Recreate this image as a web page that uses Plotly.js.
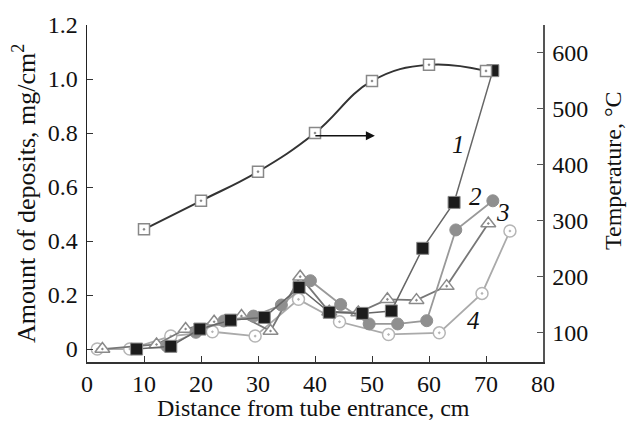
<!DOCTYPE html>
<html>
<head>
<meta charset="utf-8">
<script src="https://cdn.plot.ly/plotly-3.0.1.min.js"></script>
<style>html,body{margin:0;padding:0;background:#fff;}#chart{width:627px;height:426px;}</style>
</head>
<body>
<div id="chart"></div>
<script>
// Temperature (right axis)
const tempX = [10, 20, 30, 40, 50, 60, 70];
const tempY = [285, 336, 388, 457, 550, 579, 568];

// Deposits (left axis)
const s1X = [8.7, 14.7, 19.8, 25.2, 31.1, 37.2, 42.5, 48.3, 53.4, 58.9, 64.4, 71.2];
const s1Y = [0, 0.01, 0.074, 0.107, 0.117, 0.228, 0.136, 0.132, 0.141, 0.373, 0.543, 1.031];

const s2X = [14, 19.1, 24, 29.2, 34.1, 39.2, 44.5, 49.5, 54.5, 59.6, 64.7, 71.2];
const s2Y = [0.011, 0.062, 0.104, 0.122, 0.163, 0.253, 0.165, 0.093, 0.093, 0.105, 0.441, 0.549];

const s3X = [2.7, 12.2, 17.3, 22.3, 27.1, 32.2, 37.4, 42.5, 47.6, 52.7, 57.8, 63.1, 70.4];
const s3Y = [0, 0.017, 0.074, 0.101, 0.122, 0.067, 0.268, 0.138, 0.135, 0.184, 0.181, 0.233, 0.465];

const s4X = [1.8, 7.5, 14.7, 22, 29.5, 37.1, 44.3, 52.9, 61.8, 69.3, 74.2];
const s4Y = [0, 0, 0.048, 0.064, 0.048, 0.184, 0.101, 0.054, 0.06, 0.206, 0.437];

const yTicks = [0, 0.2, 0.4, 0.6, 0.8, 1.0, 1.2];
const yTickText = ['0', '0.2', '0.4', '0.6', '0.8', '1.0', '1.2'];
const y2Ticks = [100, 200, 300, 400, 500, 600];
const xTicks = [0, 10, 20, 30, 40, 50, 60, 70, 80];

const curveLabels = ['1', '2', '3', '4'];
const labelX = [65.1, 68.1, 72.9, 67.8];
const labelY = [0.759, 0.564, 0.505, 0.107];

const xTitle = 'Distance from tube entrance, cm';
const yTitle = 'Amount of deposits, mg/cm<sup>2</sup>';
const y2Title = 'Temperature, °C';

const FONT = 'Liberation Serif, Times New Roman, serif';
const W = 627, H = 426, L = 87, R = 84, T = 25, B = 64;
const px = v => (v - L) / (W - L - R);
const py = v => (H - B - v) / (H - B - T);

const traces = [
  {x: tempX, y: tempY, yaxis: 'y2', mode: 'lines+markers',
   line: {color: '#333', width: 2, shape: 'spline', smoothing: 1.2},
   marker: {symbol: 'square-dot', size: 11, color: '#fff', line: {color: '#888', width: 1.5}}},
  {x: s4X, y: s4Y, mode: 'lines+markers',
   line: {color: '#aaa', width: 1.8},
   marker: {symbol: 'circle-dot', size: 12, color: '#fff', line: {color: '#b5b5b5', width: 1.5}}},
  {x: s3X, y: s3Y, mode: 'lines+markers',
   line: {color: '#777', width: 1.8},
   marker: {symbol: 'triangle-up-dot', size: 13, color: '#fff', line: {color: '#8a8a8a', width: 1.5}}},
  {x: s2X, y: s2Y, mode: 'lines+markers',
   line: {color: '#999', width: 1.8},
   marker: {symbol: 'circle', size: 12, color: '#8f8f8f', line: {color: '#8f8f8f', width: 1}}},
  {x: s1X, y: s1Y, mode: 'lines+markers',
   line: {color: '#666', width: 1.5},
   marker: {symbol: 'square', size: 12, color: '#1c1c1c', line: {color: '#888', width: 1}}}
];

const annotations = curveLabels.map((t, i) => ({
  x: labelX[i], y: labelY[i], xref: 'x', yref: 'y', text: '<i>' + t + '</i>', showarrow: false,
  font: {family: FONT, size: 25, color: '#111'}, xanchor: 'center', yanchor: 'middle'
}));

annotations.push({
  x: 50.5, y: 452, xref: 'x', yref: 'y2', ax: 39.8, ay: 452, axref: 'x', ayref: 'y2',
  showarrow: true, arrowhead: 2, arrowsize: 1.2, arrowwidth: 1.5, arrowcolor: '#111', text: ''
});
annotations.push({
  x: px(313), y: py(408), xref: 'paper', yref: 'paper', text: xTitle, showarrow: false,
  xanchor: 'center', yanchor: 'middle', font: {family: FONT, size: 24, color: '#111'}
});
annotations.push({
  x: px(24), y: py(194), xref: 'paper', yref: 'paper', text: yTitle, showarrow: false,
  textangle: -90, xanchor: 'center', yanchor: 'middle', font: {family: FONT, size: 26, color: '#111'}
});
annotations.push({
  x: px(613), y: py(171), xref: 'paper', yref: 'paper', text: y2Title, showarrow: false,
  textangle: -90, xanchor: 'center', yanchor: 'middle', font: {family: FONT, size: 24, color: '#111'}
});

const layout = {
  width: W, height: H,
  margin: {l: L, r: R, t: T, b: B},
  paper_bgcolor: '#fff', plot_bgcolor: '#fff',
  showlegend: false,
  font: {family: FONT, size: 24, color: '#111'},
  xaxis: {
    range: [0, 80], tickvals: xTicks, ticks: 'inside', ticklen: 6, tickcolor: '#333',
    showline: true, linecolor: '#333', linewidth: 1.5, showgrid: false, zeroline: false,
    tickfont: {family: FONT, size: 24, color: '#111'}
  },
  yaxis: {
    range: [-0.048, 1.2], tickvals: yTicks, ticktext: yTickText, ticks: 'inside', ticklen: 6, tickcolor: '#333',
    showline: true, linecolor: '#222', linewidth: 1.5, showgrid: false, zeroline: false,
    tickfont: {family: FONT, size: 24, color: '#111'}, ticklabelstandoff: 3
  },
  yaxis2: {
    overlaying: 'y', side: 'right', range: [48, 650], tickvals: y2Ticks, ticks: 'inside', ticklen: 6, tickcolor: '#555',
    showline: true, linecolor: '#555', linewidth: 1.5, showgrid: false, zeroline: false,
    tickfont: {family: FONT, size: 24, color: '#111'}, ticklabelstandoff: 3
  },
  annotations: annotations
};

Plotly.newPlot('chart', traces, layout, {displayModeBar: false, staticPlot: true});
</script>
</body>
</html>
